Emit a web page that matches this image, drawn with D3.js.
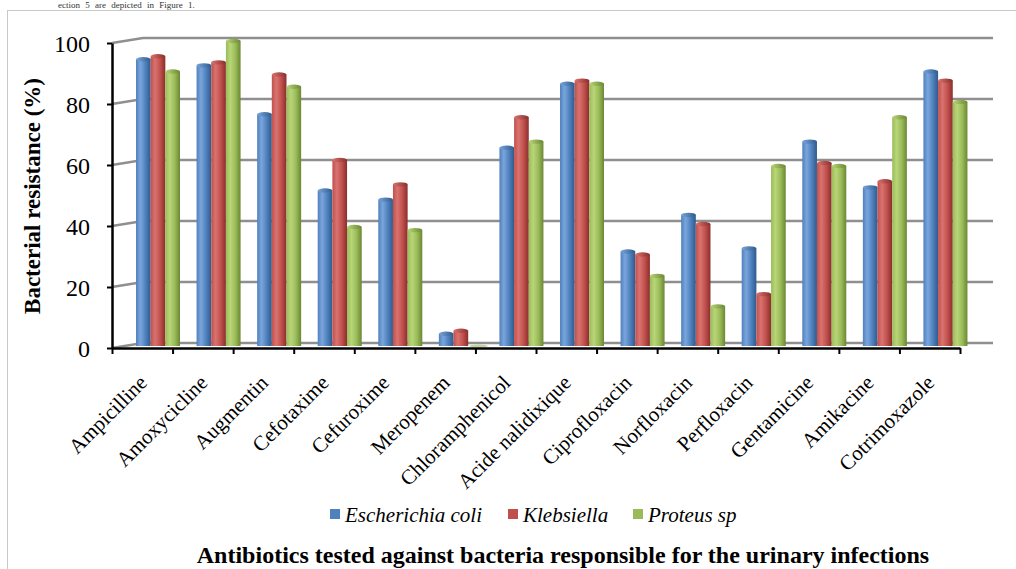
<!DOCTYPE html>
<html>
<head>
<meta charset="utf-8">
<script src="https://cdn.jsdelivr.net/npm/d3@7/dist/d3.min.js"></script>
<style>
  html, body { margin: 0; padding: 0; background: #fff; }
  svg { display: block; }
  svg text { font-family: "Liberation Serif", "Times New Roman", "DejaVu Serif", serif; fill: #000; }
</style>
</head>
<body>
<svg id="chart" width="1016" height="569"></svg>
<script>
// Resistance (%) of each bacterium to each antibiotic
const categories = ["Ampicilline", "Amoxycicline", "Augmentin", "Cefotaxime", "Cefuroxime",
  "Meropenem", "Chloramphenicol", "Acide nalidixique", "Ciprofloxacin", "Norfloxacin",
  "Perfloxacin", "Gentamicine", "Amikacine", "Cotrimoxazole"];
const seriesNames = ["Escherichia coli", "Klebsiella", "Proteus sp"];
const ecoli      = [94, 92, 76, 51, 48, 4, 65, 86, 31, 43, 32, 67, 52, 90];
const klebsiella = [95, 93, 89, 61, 53, 5, 75, 87, 30, 40, 17, 60, 54, 87];
const proteus    = [90, 100, 85, 39, 38, 0, 67, 86, 23, 13, 59, 59, 75, 80];
const yTicks = [0, 20, 40, 60, 80, 100];

const seriesValues = [ecoli, klebsiella, proteus];
const palette = [
  { base: "#4F81BD", light: "#7aa5dc", dark: "#2f5a8c" },
  { base: "#C0504D", light: "#d9736f", dark: "#8a2e2b" },
  { base: "#9BBB59", light: "#b8d678", dark: "#6a8733" }
];
const serif = "Liberation Serif, Times New Roman, serif";

const svg = d3.select("#chart");

// outer frame of the chart area
svg.append("rect").attr("x", 7.5).attr("y", 10.5).attr("width", 1020).attr("height", 600)
  .attr("fill", "none").attr("stroke", "#c8c8c8").attr("stroke-width", 1);

// running text of the page above the chart
svg.append("text").attr("x", 58).attr("y", 8).attr("font-size", 9).attr("word-spacing", 3)
  .style("fill", "#333").text("ection 5 are depicted in Figure 1.");

const x = d3.scaleBand().domain(categories).range([112, 960]).paddingInner(0).paddingOuter(0);
const xi = d3.scaleLinear().domain([0, categories.length]).range([112, 960]);
const y = d3.scaleLinear().domain([0, 100]).range([348, 43]);

// depth of the 3D box: back wall shift and bar plane shift
const wallDx = 31, wallDy = -5, wallRight = 993;
const barDy = -2;
const sub = d3.scaleBand().domain(seriesNames).range([0, 44]);
const groupOffset = 24;

// gradients giving the bars a cylinder look
const defs = svg.append("defs");
palette.forEach((p, i) => {
  const g = defs.append("linearGradient").attr("id", "cyl" + i)
    .attr("x1", 0).attr("x2", 1).attr("y1", 0).attr("y2", 0);
  g.append("stop").attr("offset", "0%").attr("stop-color", p.base);
  g.append("stop").attr("offset", "30%").attr("stop-color", p.light);
  g.append("stop").attr("offset", "65%").attr("stop-color", p.base);
  g.append("stop").attr("offset", "100%").attr("stop-color", p.dark);
  const t = defs.append("linearGradient").attr("id", "cap" + i)
    .attr("x1", 0).attr("x2", 1).attr("y1", 0).attr("y2", 0);
  t.append("stop").attr("offset", "0%").attr("stop-color", p.light);
  t.append("stop").attr("offset", "100%").attr("stop-color", p.dark);
});

// back-wall gridlines with the short side-wall segment
const x0 = xi(0);
svg.append("g").selectAll("path").data(yTicks).join("path")
  .attr("d", v => `M${x0},${y(v)} L${x0 + wallDx},${y(v) + wallDy} H${wallRight}`)
  .attr("fill", "none").attr("stroke", "#8f8f8f").attr("stroke-width", 2.5);

// bars
const groups = svg.append("g").selectAll("g").data(categories).join("g")
  .attr("transform", c => `translate(${x(c) + groupOffset},0)`);

seriesNames.forEach((name, si) => {
  const w = sub.bandwidth();
  const bx = sub(name);
  groups.each(function (c, ci) {
    const v = seriesValues[si][ci];
    const g = d3.select(this);
    const top = y(v) + barDy, base = y(0) + barDy;
    if (v > 0) {
      g.append("rect").attr("x", bx).attr("y", top).attr("width", w).attr("height", base - top)
        .attr("fill", `url(#cyl${si})`);
      g.append("ellipse").attr("cx", bx + w / 2).attr("cy", top).attr("rx", w / 2).attr("ry", 2.2)
        .attr("fill", `url(#cap${si})`);
    } else {
      g.append("ellipse").attr("cx", bx + w / 2 + 3).attr("cy", base).attr("rx", w / 2 + 2).attr("ry", 1.5)
        .attr("fill", palette[si].base).attr("opacity", 0.6);
    }
  });
});

// y axis
const yAxis = svg.append("g").attr("transform", `translate(${x0},0)`)
  .call(d3.axisLeft(y).tickValues(yTicks).tickSize(5).tickPadding(17).tickSizeOuter(0));
yAxis.attr("font-family", serif);
yAxis.select(".domain").attr("stroke", "#000").attr("stroke-width", 2.5);
yAxis.selectAll(".tick line").attr("stroke", "#000").attr("stroke-width", 2);
yAxis.selectAll(".tick text").attr("font-size", 24).attr("dy", "0.34em");

// x axis with ticks between categories
const xAxis = svg.append("g").attr("transform", `translate(0,${y(0)})`)
  .call(d3.axisBottom(xi).tickValues(d3.range(categories.length + 1)).tickFormat("").tickSize(6).tickSizeOuter(0));
xAxis.select(".domain").attr("stroke", "#000").attr("stroke-width", 2.5);
xAxis.selectAll(".tick line").attr("stroke", "#000").attr("stroke-width", 2);

// category labels
svg.append("g").selectAll("text").data(categories).join("text")
  .attr("transform", c => `translate(${x(c) + x.bandwidth() / 2 + 6},${y(0) + 36}) rotate(-45)`)
  .attr("text-anchor", "end").attr("font-size", 21)
  .text(c => c);

// y axis title
svg.append("text").attr("transform", "translate(40,196) rotate(-90)")
  .attr("text-anchor", "middle").attr("font-size", 23).attr("font-weight", "bold")
  .text("Bacterial resistance (%)");

// legend
const legendX = [330, 508, 633];
const legend = svg.append("g").selectAll("g").data(seriesNames).join("g")
  .attr("transform", (d, i) => `translate(${legendX[i]},509)`);
legend.append("rect").attr("width", 10).attr("height", 10).attr("fill", (d, i) => palette[i].base);
legend.append("text").attr("x", 15).attr("y", 13).attr("font-size", 21).attr("font-style", "italic")
  .text(d => d);

// x axis title
svg.append("text").attr("x", 563).attr("y", 563).attr("text-anchor", "middle")
  .attr("font-size", 24).attr("font-weight", "bold")
  .text("Antibiotics tested against bacteria responsible for the urinary infections");
</script>
</body>
</html>
